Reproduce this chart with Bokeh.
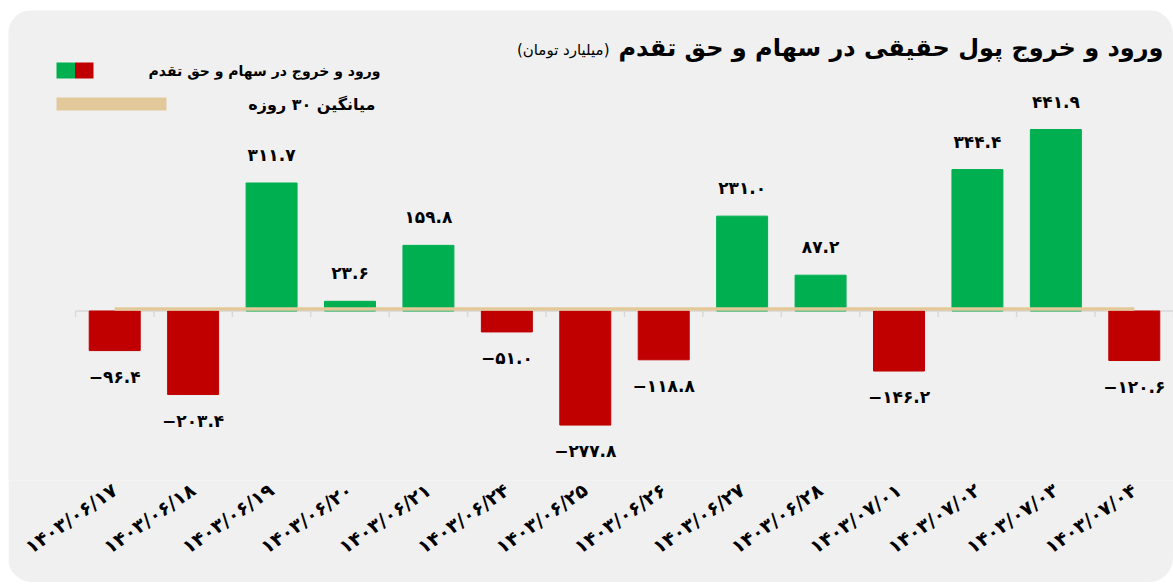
from bokeh.plotting import figure
from bokeh.models import (ColumnDataSource, Range1d, FixedTicker, LinearAxis,
                          Label, BoxAnnotation)
from bokeh.embed import file_html
from bokeh.resources import INLINE
from bokeh.core.properties import value
import math

# ---------------- data ----------------
dates = ["1403/06/17", "1403/06/18", "1403/06/19", "1403/06/20", "1403/06/21",
         "1403/06/24", "1403/06/25", "1403/06/26", "1403/06/27", "1403/06/28",
         "1403/07/01", "1403/07/02", "1403/07/03", "1403/07/04"]
flows = [-96.4, -203.4, 311.7, 23.6, 159.8, -51.0, -277.8, -118.8, 231.0, 87.2,
         -146.2, 344.4, 441.9, -120.6]
avg30 = [5.0, 5.0, 5.0, 5.0, 5.0, 5.0, 5.0, 5.0, 5.0, 5.0, 5.0, 5.0, 5.0, 5.0]

title_text = "ورود و خروج پول حقیقی در سهام و حق تقدم"
unit_text = "(میلیارد تومان)"
legend_flow = "ورود و خروج در سهام و حق تقدم"
legend_avg = "میانگین ۳۰ روزه"

GREEN = "#00b050"
RED = "#c00000"
TAN = "#e3c99a"
PANEL = "#f0f0f0"
AXIS_GRAY = "#d9d9d9"
FONT = "DejaVu Sans"

FA = str.maketrans("0123456789", "۰۱۲۳۴۵۶۷۸۹")
RLM = "\u200F"


def fa_num(v):
    s = f"{abs(v):.1f}".translate(FA)
    return ("−" if v < 0 else "") + s


n = len(dates)
xs = [i + 0.5 for i in range(n)]
bounds = list(range(n + 1))

# ---------------- geometry (figure placed at page x=8, y=10) ----------------
W, H = 1165, 572
FIG_X, FIG_Y = 8, 10
FRAME_LEFT_PAGE = 75
FRAME_RIGHT_PAGE = 1173
CAT_PX = (FRAME_RIGHT_PAGE - FRAME_LEFT_PAGE) / n
ZERO_PAGE = 310.5
PX_PER_UNIT = 0.4107
FRAME_BOTTOM_PAGE = 480
BOTTOM = FIG_Y + H - FRAME_BOTTOM_PAGE
TICK_LEN = 6 / PX_PER_UNIT

x0 = -(FRAME_LEFT_PAGE - FIG_X) / CAT_PX
y1 = (ZERO_PAGE - FIG_Y) / PX_PER_UNIT
y0 = -(FRAME_BOTTOM_PAGE - ZERO_PAGE) / PX_PER_UNIT


def dx(px):
    return (px - FRAME_LEFT_PAGE) / CAT_PX


def dy(py):
    return (ZERO_PAGE - py) / PX_PER_UNIT


p = figure(width=W, height=H, x_range=Range1d(x0, n), y_range=Range1d(y0, y1),
           output_backend="svg", toolbar_location=None,
           x_axis_location=None, y_axis_location=None,
           min_border_left=0, min_border_right=0, min_border_top=0,
           min_border_bottom=BOTTOM,
           background_fill_color=PANEL, border_fill_color=PANEL,
           outline_line_color=None)
p.grid.visible = False
p.styles = {"margin-left": f"{FIG_X}px", "margin-top": f"{FIG_Y}px",
            "border-radius": "24px", "overflow": "hidden"}

# category labels axis (bottom)
ax = LinearAxis(ticker=FixedTicker(ticks=xs),
                major_label_overrides={x: d.translate(FA) for x, d in zip(xs, dates)},
                axis_line_color=None, major_tick_line_color=None,
                minor_tick_line_color=None, major_tick_out=0, major_tick_in=0,
                major_label_orientation=math.radians(35),
                major_label_standoff=7,
                major_label_text_font=FONT, major_label_text_font_style="bold",
                major_label_text_font_size="19px",
                major_label_text_color="black")
p.add_layout(ax, "below")

# zero line with category-boundary ticks
p.segment(x0=[0], x1=[n], y0=[0], y1=[0], line_color=AXIS_GRAY, line_width=1.5)
p.segment(x0=bounds, x1=bounds, y0=[0] * len(bounds), y1=[-TICK_LEN] * len(bounds),
          line_color=AXIS_GRAY, line_width=1.5)

# bars
src = ColumnDataSource(dict(
    x=xs, top=flows,
    color=[GREEN if v >= 0 else RED for v in flows],
    lbl=[fa_num(v) for v in flows],
    off=[-28 if v >= 0 else 26 for v in flows],
))
p.vbar(x="x", top="top", bottom=0, width=0.65, source=src,
       fill_color="color", line_color="color")

# 30-day average
p.line(xs, avg30, line_width=3.5, line_color=TAN)

# value labels
p.text(x="x", y="top", text="lbl", y_offset="off", source=src,
       text_align="center", text_baseline="middle",
       text_font=value(FONT), text_font_style="bold",
       text_font_size="17px", text_color="black")

# title
p.add_layout(Label(x=dx(1163), y=dy(47), text=RLM + title_text + RLM,
                   text_align="right", text_baseline="middle",
                   text_font=FONT, text_font_style="bold",
                   text_font_size="24px", text_color="black"))
p.add_layout(Label(x=dx(609), y=dy(49), text=RLM + unit_text + RLM,
                   text_align="right", text_baseline="middle",
                   text_font=FONT, text_font_size="15px", text_color="black"))

# legend
p.add_layout(BoxAnnotation(left=dx(56), right=dx(74.5), top=dy(62), bottom=dy(78),
                           fill_color=GREEN, fill_alpha=1, line_color=None))
p.add_layout(BoxAnnotation(left=dx(74.5), right=dx(93), top=dy(62), bottom=dy(78),
                           fill_color=RED, fill_alpha=1, line_color=None))
p.add_layout(BoxAnnotation(left=dx(56), right=dx(166), top=dy(97), bottom=dy(110),
                           fill_color=TAN, fill_alpha=1, line_color=None))
p.add_layout(Label(x=dx(380), y=dy(70), text=RLM + legend_flow + RLM,
                   text_align="right", text_baseline="middle",
                   text_font=FONT, text_font_style="bold",
                   text_font_size="14px", text_color="black"))
p.add_layout(Label(x=dx(375), y=dy(104), text=RLM + legend_avg + RLM,
                   text_align="right", text_baseline="middle",
                   text_font=FONT, text_font_style="bold",
                   text_font_size="16px", text_color="black"))

open("out.html", "w").write(file_html(p, INLINE))
